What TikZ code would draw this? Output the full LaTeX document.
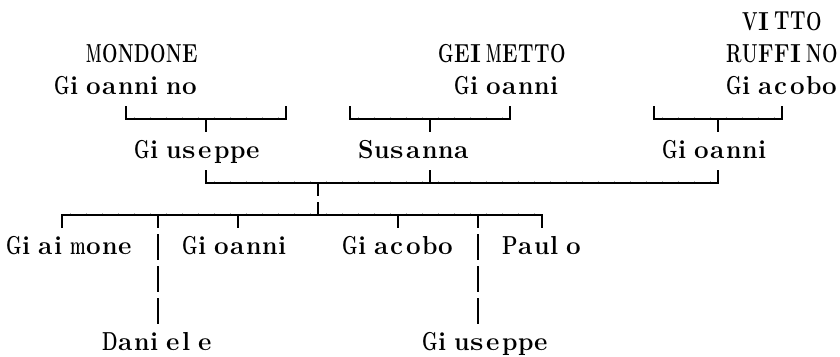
\documentclass[tikz,border=0pt]{standalone}
\usepackage{fontspec}
\usepackage{graphicx}
\newcommand\namefam{\rmfamily\bfseries}
\newlength\cellw \setlength\cellw{16pt}
\newlength\glyphmax \setlength\glyphmax{15.5pt}
\newlength\swidth \setlength\swidth{13.5pt}
\newsavebox\chbox
\newcommand\cellch[1]{\sbox\chbox{\namefam #1}%
  \ifx#1s\makebox[\cellw][l]{\resizebox{\swidth}{\height}{\usebox\chbox}}%
  \else\ifdim\wd\chbox>\glyphmax\makebox[\cellw][l]{\resizebox{\glyphmax}{\height}{\usebox\chbox}}%
  \else\makebox[\cellw][l]{\usebox\chbox}\fi\fi}
\newcommand\mono[1]{\monoloop#1\relax}
\def\monoloop#1{\ifx#1\relax\else\cellch{#1}\expandafter\monoloop\fi}
% cell geometry: column c centre x = 14+16c, row r middle y = 23+32r
\newcommand\lnup[2]{\draw[boxln] ({14+16*#2},{10+32*#1}) -- ({14+16*#2},{23+32*#1});}
\newcommand\lndown[2]{\draw[boxln] ({14+16*#2},{23+32*#1}) -- ({14+16*#2},{36+32*#1});}
\newcommand\lnfull[2]{\draw[boxln] ({14+16*#2},{10+32*#1}) -- ({14+16*#2},{36+32*#1});}
\newcommand\ticks[3]{\foreach \k in {#2,...,#3}{\draw[tickln] ({6+16*\k},{23+32*#1-0.7}) -- ({6+16*\k},{23+32*#1-2.0});}}
\tikzset{
  personname/.style={anchor=base west, inner sep=0pt, outer sep=0pt, font=\namefam\fontsize{26}{26}\selectfont},
  boxln/.style={line width=1.5pt, line join=miter, line cap=butt, black},
  tickln/.style={line width=0.7pt, black!30},
}
\begin{document}
\begin{tikzpicture}[x=1pt,y=-1pt]
\useasboundingbox (0,0) rectangle (840,356);
% generation 0
\node[personname] (vitto)    at ({6+16*46},{30+32*0}) {\mono{VITTO}};
\node[personname] (mondone)  at ({6+16*5},{30+32*1})  {\mono{MONDONE}};
\node[personname] (geimetto) at ({6+16*27},{30+32*1}) {\mono{GEIMETTO}};
\node[personname] (ruffino)  at ({6+16*45},{30+32*1}) {\mono{RUFFINO}};
\node[personname] (gioannino) at ({6+16*3},{30+32*2}) {\mono{Gioannino}};
\node[personname] (gioanniA)  at ({6+16*28},{30+32*2}) {\mono{Gioanni}};
\node[personname] (giacoboA)  at ({6+16*45},{30+32*2}) {\mono{Giacobo}};
% generation 1
\node[personname] (giuseppeA) at ({6+16*8},{30+32*4})  {\mono{Giuseppe}};
\node[personname] (susanna)   at ({6+16*22},{30+32*4}) {\mono{Susanna}};
\node[personname] (gioanniB)  at ({6+16*41},{30+32*4}) {\mono{Gioanni}};
% generation 2
\node[personname] (giaimone)  at ({6+16*0},{30+32*7})  {\mono{Giaimone}};
\node[personname] (gioanniC)  at ({6+16*11},{30+32*7}) {\mono{Gioanni}};
\node[personname] (giacoboB)  at ({6+16*21},{30+32*7}) {\mono{Giacobo}};
\node[personname] (paulo)     at ({6+16*31},{30+32*7}) {\mono{Paulo}};
% generation 3
\node[personname] (daniele)   at ({6+16*6},{30+32*10})  {\mono{Daniele}};
\node[personname] (giuseppeB) at ({6+16*26},{30+32*10}) {\mono{Giuseppe}};

% row 3 brackets
\draw[boxln] ({14+16*7},{10+32*3}) -- ({14+16*7},{23+32*3}) -- ({14+16*17},{23+32*3}) -- ({14+16*17},{10+32*3});
\lndown{3}{12}
\ticks{3}{8}{17}
\draw[boxln] ({14+16*21},{10+32*3}) -- ({14+16*21},{23+32*3}) -- ({14+16*31},{23+32*3}) -- ({14+16*31},{10+32*3});
\lndown{3}{26}
\ticks{3}{22}{31}
\draw[boxln] ({14+16*40},{10+32*3}) -- ({14+16*40},{23+32*3}) -- ({14+16*48},{23+32*3}) -- ({14+16*48},{10+32*3});
\lndown{3}{44}
\ticks{3}{41}{48}
% row 5: marriage line
\draw[boxln] ({14+16*12},{10+32*5}) -- ({14+16*12},{23+32*5}) -- ({14+16*44},{23+32*5}) -- ({14+16*44},{10+32*5});
\lnup{5}{26}
\lndown{5}{19}
\ticks{5}{13}{44}
% row 6: children line
\draw[boxln] ({14+16*3},{36+32*6}) -- ({14+16*3},{23+32*6}) -- ({14+16*33},{23+32*6}) -- ({14+16*33},{36+32*6});
\lnup{6}{19}
\lndown{6}{9}
\lndown{6}{14}
\lndown{6}{24}
\lndown{6}{29}
\ticks{6}{4}{33}
% descent lines
\lnfull{7}{9}
\lnfull{8}{9}
\lnfull{9}{9}
\lnfull{7}{29}
\lnfull{8}{29}
\lnfull{9}{29}
\end{tikzpicture}
\end{document}
